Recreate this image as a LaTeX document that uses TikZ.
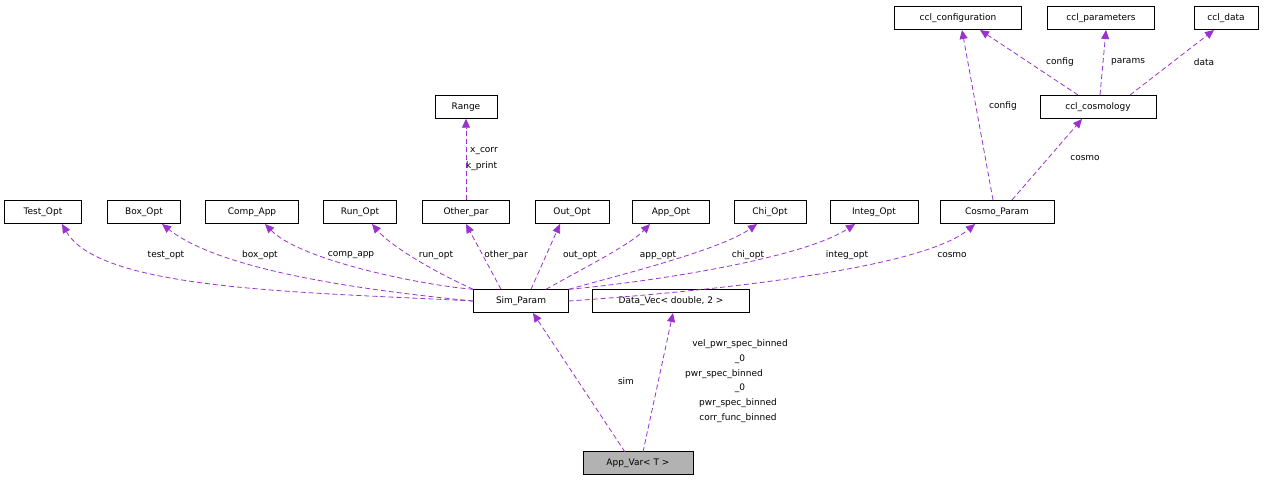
\documentclass[tikz,border=0pt]{standalone}
\usepackage{fontspec}
\setmainfont{DejaVu Sans}
\usetikzlibrary{arrows.meta,calc}
\definecolor{edge}{HTML}{9A32CD}
\begin{document}
\begin{tikzpicture}[x=1pt,y=-1pt,
  box/.style={draw=black,fill=white,minimum height=23pt,inner sep=0pt,font=\fontsize{9}{10}\selectfont},
  dep/.style={draw=edge,dashed,dash pattern=on 5pt off 3pt,-{Triangle[length=9pt,width=8pt]},line width=0.8pt},
  lab/.style={font=\fontsize{9}{10}\selectfont,inner sep=0pt}]
\useasboundingbox (0,0) rectangle (1275,483);
\node[box,minimum width=127pt] (cconf) at (958,18) {ccl\_configuration};
\node[box,minimum width=107pt] (cpar) at (1101,18) {ccl\_parameters};
\node[box,minimum width=64pt] (cdata) at (1226,18) {ccl\_data};
\node[box,minimum width=116pt] (ccos) at (1098,107) {ccl\_cosmology};
\node[box,minimum width=62pt] (range) at (466,107) {Range};
\node[box,minimum width=77pt] (test) at (43,212) {Test\_Opt};
\node[box,minimum width=73pt] (boxo) at (144,212) {Box\_Opt};
\node[box,minimum width=93pt] (comp) at (252,212) {Comp\_App};
\node[box,minimum width=73pt] (run) at (360,212) {Run\_Opt};
\node[box,minimum width=87pt] (other) at (466,212) {Other\_par};
\node[box,minimum width=74pt] (out) at (572,212) {Out\_Opt};
\node[box,minimum width=77pt] (app) at (671,212) {App\_Opt};
\node[box,minimum width=72pt] (chi) at (770,212) {Chi\_Opt};
\node[box,minimum width=88pt] (integ) at (874,212) {Integ\_Opt};
\node[box,minimum width=114pt] (cosmo) at (997,212) {Cosmo\_Param};
\node[box,minimum width=95pt] (sim) at (521,301) {Sim\_Param};
\node[box,minimum width=157pt] (dv) at (671,301) {Data\_Vec< double, 2 >};
\node[box,minimum width=110pt,fill=black!30] (av) at (638,463) {App\_Var< T >};

\draw[dep] (sim.west) .. controls (300,292) and (100,290) .. (62,224);
\draw[dep] (sim.west) .. controls (360,290) and (220,270) .. (162,224);
\draw[dep] (sim.north west) .. controls (420,285) and (300,260) .. (265,224);
\draw[dep] (sim.north west) .. controls (430,270) and (390,245) .. (372,224);
\draw[dep] ($(sim.north)+(-20,0)$) -- (466,224);
\draw[dep] ($(sim.north)+(10,0)$) -- (560,224);
\draw[dep] ($(sim.north)+(25,0)$) .. controls (580,270) and (630,245) .. (650,224);
\draw[dep] (sim.north east) .. controls (620,275) and (720,250) .. (757,224);
\draw[dep] (sim.north east) .. controls (640,283) and (800,260) .. (855,224);
\draw[dep] (sim.east) .. controls (700,292) and (920,270) .. (975,224);
\draw[dep] (other) -- (range);
\node[lab,anchor=west] (l1) at (470,151) {x\_corr};
\node[lab,anchor=west] (l2) at (466,166) {k\_print};
\draw[dep] (993,200) -- (962,30);
\draw[dep] (1012,200) -- (1082,119);
\draw[dep] (1078,95) -- (980,30);
\draw[dep] (1100,95) -- (1106,30);
\draw[dep] (1130,95) -- (1214,30);
\draw[dep] (625,452) -- (533,313);
\draw[dep] (643,452) -- (673,313);

\node[lab] at (166,255) {test\_opt};
\node[lab] at (260,255) {box\_opt};
\node[lab] at (351,255) {comp\_app};
\node[lab] at (436,255) {run\_opt};
\node[lab] at (506,255) {other\_par};
\node[lab] at (580,255) {out\_opt};
\node[lab] at (658,255) {app\_opt};
\node[lab] at (748,255) {chi\_opt};
\node[lab] at (847,255) {integ\_opt};
\node[lab] at (952,255) {cosmo};
\node[lab] at (1003,106) {config};
\node[lab] at (1085,158) {cosmo};
\node[lab] at (1060,62) {config};
\node[lab] at (1128,62) {params};
\node[lab] at (1204,62) {data};
\node[lab] at (626,381) {sim};
\node[lab] at (740,344) {vel\_pwr\_spec\_binned};
\node[lab] at (740,359) {\_0};
\node[lab] at (724,374) {pwr\_spec\_binned};
\node[lab] at (740,388) {\_0};
\node[lab] at (738,403) {pwr\_spec\_binned};
\node[lab] at (738,418) {corr\_func\_binned};
\end{tikzpicture}
\end{document}
